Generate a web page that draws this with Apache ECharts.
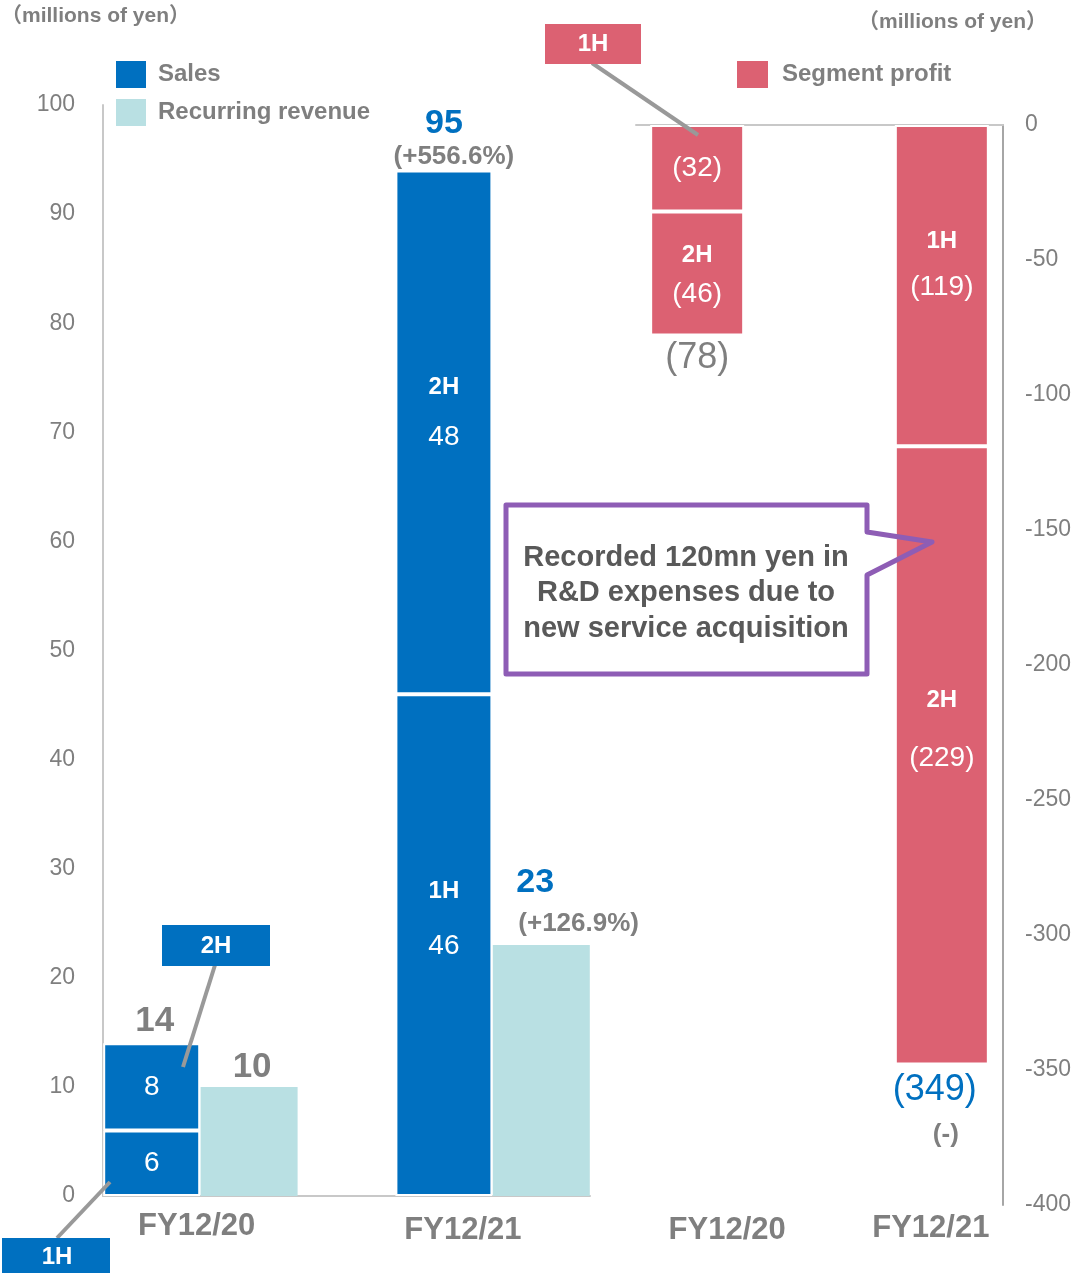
<!DOCTYPE html>
<html>
<head>
<meta charset="utf-8">
<script src="https://cdn.jsdelivr.net/npm/echarts@6/dist/echarts.min.js"></script>
<style>
  html, body { margin: 0; padding: 0; background: #fff; }
  #chart { width: 1076px; height: 1273px; }
</style>
</head>
<body>
<div id="chart"></div>
<script>
// Fiscal years shown in both panels
const categories = ['FY12/20', 'FY12/21'];

// Sales (millions of yen), by half
const sales1H = [6, 46];
const sales2H = [8, 48];
const salesTotal = [14, 95];
const salesGrowth = ['', '+556.6%'];

// Recurring revenue (millions of yen)
const recurring = [10, 23];
const recurringGrowth = ['', '+126.9%'];

// Segment profit (millions of yen), by half
const profit1H = [-32, -119];
const profit2H = [-46, -229];
const profitTotal = [-78, -349];
const profitGrowth = ['', '-'];

// Axis ranges
const leftAxis = { min: 0, max: 100, interval: 10 };
const rightAxis = { min: -400, max: 0, interval: 50 };

const FONT = "'Liberation Sans', Arial, 'Noto Sans CJK JP', sans-serif";
const C = {
  blue: '#0070C0',
  teal: '#B9E0E3',
  red: '#DC6172',
  gray: '#7F7F7F',
  axis: '#C8C8C8',
  dark: '#595959',
  purple: '#8E5DB5',
  leader: '#999999'
};

// Left panel: five slots -> [sales, recurring, gap, sales, recurring]
const leftSlots = ['s0', 'r0', 'gap', 's1', 'r1'];
const salesSlot = i => 3 * i;
const recSlot = i => 3 * i + 1;
// Right panel: three slots -> [profit, gap, profit]
const rightSlots = ['p0', 'gap', 'p1'];
const profitSlot = i => 2 * i;

function slotted(n, slotOf, items) {
  const arr = new Array(n).fill('-');
  items.forEach((it, i) => { arr[slotOf(i)] = it; });
  return arr;
}
const paren = v => v < 0 ? '(' + Math.abs(v) + ')' : String(v);

// Label inside a half-year segment; optional "1H"/"2H" heading above the value
function segItem(value, half, withHalf, lineH, dy) {
  const text = paren(value);
  return {
    value: value,
    label: withHalf ? {
      formatter: '{h|' + half + '}\n{v|' + text + '}',
      offset: [0, dy],
      rich: {
        h: { color: '#fff', fontSize: 24, fontWeight: 'bold', fontFamily: FONT, lineHeight: lineH },
        v: { color: '#fff', fontSize: 28, fontFamily: FONT, lineHeight: lineH }
      }
    } : { formatter: text, offset: [0, dy] }
  };
}

const segLabel = {
  show: true, position: 'inside', color: '#fff', fontSize: 28, fontFamily: FONT
};

const sales1HData = slotted(5, salesSlot, sales1H.map((v, i) =>
  i === 0 ? segItem(v, '1H', false, 30, 0) : segItem(v, '1H', true, 55, -26)));
const sales2HData = slotted(5, salesSlot, sales2H.map((v, i) =>
  i === 0 ? segItem(v, '2H', false, 30, 0) : segItem(v, '2H', true, 50, -20)));

const recurringData = slotted(5, recSlot, recurring.map((v, i) => {
  if (!recurringGrowth[i]) {
    return { value: v, label: { formatter: String(v), color: C.gray, fontSize: 35, fontWeight: 'bold', lineHeight: 35, distance: 2, offset: [3, 0] } };
  }
  return {
    value: v,
    label: {
      formatter: '{v|' + v + '}\n{p|(' + recurringGrowth[i] + ')}',
      align: 'left', offset: [-25, 0], distance: 8,
      rich: {
        v: { color: C.blue, fontSize: 34, fontWeight: 'bold', fontFamily: FONT, lineHeight: 56 },
        p: { color: C.gray, fontSize: 26, fontWeight: 'bold', fontFamily: FONT, lineHeight: 26, padding: [0, 0, 0, 2] }
      }
    }
  };
}));

// Totals sit on top of the stacked sales column
const salesTotalData = slotted(5, salesSlot, salesTotal.map((t, i) => {
  const top = sales1H[i] + sales2H[i];
  if (!salesGrowth[i]) {
    return { value: top, label: { formatter: String(t), color: C.gray, fontSize: 35, fontWeight: 'bold', lineHeight: 35, distance: 4, offset: [3, 0] } };
  }
  return {
    value: top,
    label: {
      formatter: '{v|' + t + '}\n{p|(' + salesGrowth[i] + ')}',
      distance: 0,
      rich: {
        v: { color: C.blue, fontSize: 34, fontWeight: 'bold', fontFamily: FONT, lineHeight: 40 },
        p: { color: C.gray, fontSize: 26, fontWeight: 'bold', fontFamily: FONT, lineHeight: 26, padding: [0, 0, 0, 20] }
      }
    }
  };
}));

const profit1HData = slotted(3, profitSlot, profit1H.map((v, i) =>
  i === 0 ? segItem(v, '1H', false, 30, 0) : segItem(v, '1H', true, 46, -21)));
const profit2HData = slotted(3, profitSlot, profit2H.map((v, i) =>
  i === 0 ? segItem(v, '2H', true, 39, 1) : segItem(v, '2H', true, 58, -26)));

// Totals hang below the stacked profit column
const profitTotalData = slotted(3, profitSlot, profitTotal.map((t, i) => {
  const bottom = profit1H[i] + profit2H[i];
  if (!profitGrowth[i]) {
    return { value: bottom, label: { formatter: paren(t), color: C.gray, fontSize: 36, lineHeight: 40, distance: 2 } };
  }
  return {
    value: bottom,
    label: {
      formatter: '{v|' + paren(t) + '}\n{p|(' + profitGrowth[i] + ')}',
      distance: 3,
      rich: {
        v: { color: C.blue, fontSize: 36, fontFamily: FONT, lineHeight: 44, padding: [0, 14, 0, 0] },
        p: { color: C.gray, fontSize: 26, fontWeight: 'bold', fontFamily: FONT, lineHeight: 46, padding: [0, 0, 0, 8] }
      }
    }
  };
}));

const chart = echarts.init(document.getElementById('chart'), null, { renderer: 'canvas' });

const xLabelStyle = { color: C.gray, fontSize: 31, fontWeight: 'bold', fontFamily: FONT, lineHeight: 32 };
const legendText = { color: C.gray, fontSize: 24, fontWeight: 'bold', fontFamily: FONT };
const totalStyle = { color: 'rgba(0,0,0,0)', opacity: 1 };

const option = {
  animation: false,
  backgroundColor: '#fff',
  textStyle: { fontFamily: FONT },
  grid: [
    { left: 103, right: 486, top: 105, bottom: 77, outerBoundsMode: 'none' },
    { left: 636, right: 73, top: 125, bottom: 68, outerBoundsMode: 'none' }
  ],
  legend: [
    {
      left: 116, top: 61, padding: 0, orient: 'vertical', icon: 'rect',
      itemWidth: 30, itemHeight: 27, itemGap: 11, selectedMode: false,
      itemStyle: { borderWidth: 0 },
      data: ['Sales', 'Recurring revenue'],
      textStyle: Object.assign({ padding: [0, 0, 0, 7] }, legendText)
    },
    {
      left: 737, top: 61, padding: 0, orient: 'vertical', icon: 'rect',
      itemWidth: 31, itemHeight: 27, selectedMode: false,
      itemStyle: { borderWidth: 0 },
      data: ['Segment profit'],
      textStyle: Object.assign({ padding: [0, 0, 0, 9] }, legendText)
    }
  ],
  xAxis: [
    {
      gridIndex: 0, type: 'category', data: leftSlots,
      axisLine: { show: true, lineStyle: { color: C.axis, width: 2 } },
      axisTick: { show: false },
      axisLabel: {
        interval: 0, margin: 14,
        formatter: (val, idx) => idx % 3 === 0 ? '{c' + idx / 3 + '|' + categories[idx / 3] + '}' : '',
        rich: {
          c0: Object.assign({ padding: [0, 0, 0, 90] }, xLabelStyle),
          c1: Object.assign({ padding: [9, 0, 0, 38] }, xLabelStyle)
        }
      }
    },
    {
      gridIndex: 1, type: 'category', data: rightSlots, position: 'top',
      axisLine: { show: true, lineStyle: { color: C.axis, width: 2 } },
      axisTick: { show: false },
      axisLabel: { show: false }
    },
    {
      gridIndex: 1, type: 'category', data: rightSlots, position: 'bottom',
      axisLine: { show: false, onZero: false },
      axisTick: { show: false },
      axisLabel: {
        interval: 0, margin: 7,
        formatter: (val, idx) => idx % 2 === 0 ? '{c' + idx / 2 + '|' + categories[idx / 2] + '}' : '',
        rich: {
          c0: Object.assign({ padding: [4, 0, 0, 60] }, xLabelStyle),
          c1: Object.assign({ padding: [0, 22, 0, 0] }, xLabelStyle)
        }
      }
    }
  ],
  yAxis: [
    {
      gridIndex: 0, type: 'value',
      min: leftAxis.min, max: leftAxis.max, interval: leftAxis.interval,
      axisLine: { show: true, lineStyle: { color: C.axis, width: 2 } },
      axisTick: { show: false },
      splitLine: { show: false },
      axisLabel: { color: C.gray, fontSize: 23, fontFamily: FONT, margin: 28 }
    },
    {
      gridIndex: 1, type: 'value', position: 'right',
      min: rightAxis.min, max: rightAxis.max, interval: rightAxis.interval,
      axisLine: { show: true, lineStyle: { color: '#A6A6A6', width: 2 } },
      axisTick: { show: false },
      splitLine: { show: false },
      axisLabel: { color: C.gray, fontSize: 23, fontFamily: FONT, margin: 22 }
    }
  ],
  series: [
    {
      name: 'Sales', type: 'bar', xAxisIndex: 0, yAxisIndex: 0, stack: 'left',
      barWidth: 97, data: sales1HData,
      itemStyle: { color: C.blue, borderColor: '#fff', borderWidth: 2 },
      label: segLabel
    },
    {
      name: 'Sales', type: 'bar', xAxisIndex: 0, yAxisIndex: 0, stack: 'left',
      barWidth: 97, data: sales2HData,
      itemStyle: { color: C.blue, borderColor: '#fff', borderWidth: 2 },
      label: segLabel
    },
    {
      name: 'Recurring revenue', type: 'bar', xAxisIndex: 0, yAxisIndex: 0, stack: 'left',
      barWidth: 95, data: recurringData,
      itemStyle: { color: C.teal },
      label: { show: true, position: 'top', fontFamily: FONT }
    },
    {
      name: 'sales total', type: 'scatter', xAxisIndex: 0, yAxisIndex: 0,
      symbolSize: 1, itemStyle: totalStyle, silent: true,
      data: salesTotalData,
      label: { show: true, position: 'top', fontFamily: FONT }
    },
    {
      name: 'Segment profit', type: 'bar', xAxisIndex: 1, yAxisIndex: 1, stack: 'profit',
      barWidth: 94, data: profit1HData,
      itemStyle: { color: C.red, borderColor: '#fff', borderWidth: 2 },
      label: segLabel
    },
    {
      name: 'Segment profit', type: 'bar', xAxisIndex: 1, yAxisIndex: 1, stack: 'profit',
      barWidth: 94, data: profit2HData,
      itemStyle: { color: C.red, borderColor: '#fff', borderWidth: 2 },
      label: segLabel
    },
    {
      name: 'profit total', type: 'scatter', xAxisIndex: 1, yAxisIndex: 1,
      symbolSize: 1, itemStyle: totalStyle, silent: true,
      data: profitTotalData,
      label: { show: true, position: 'bottom', fontFamily: FONT }
    }
  ],
  graphic: [
    // unit captions
    {
      type: 'text', left: 1, top: 6, z: 100,
      style: { text: '（millions of yen）', fill: C.gray, font: 'bold 21px ' + FONT }
    },
    {
      type: 'text', left: 858, top: 12, z: 100,
      style: { text: '（millions of yen）', fill: C.gray, font: 'bold 21px ' + FONT }
    },
    // half-year callouts
    { type: 'line', z: 100, shape: { x1: 57, y1: 1238, x2: 110, y2: 1182 }, style: { stroke: C.leader, lineWidth: 4 } },
    { type: 'rect', z: 101, shape: { x: 2, y: 1238, width: 108, height: 35 }, style: { fill: C.blue } },
    { type: 'text', z: 102, x: 57, y: 1257, style: { text: '1H', fill: '#fff', font: 'bold 24px ' + FONT, align: 'center', verticalAlign: 'middle' } },

    { type: 'line', z: 100, shape: { x1: 215, y1: 965, x2: 183, y2: 1067 }, style: { stroke: C.leader, lineWidth: 4 } },
    { type: 'rect', z: 101, shape: { x: 162, y: 925, width: 108, height: 41 }, style: { fill: C.blue } },
    { type: 'text', z: 102, x: 216, y: 946, style: { text: '2H', fill: '#fff', font: 'bold 24px ' + FONT, align: 'center', verticalAlign: 'middle' } },

    { type: 'line', z: 100, shape: { x1: 592, y1: 63, x2: 698, y2: 135 }, style: { stroke: C.leader, lineWidth: 4 } },
    { type: 'rect', z: 101, shape: { x: 545, y: 24, width: 96, height: 40 }, style: { fill: C.red } },
    { type: 'text', z: 102, x: 593, y: 44, style: { text: '1H', fill: '#fff', font: 'bold 24px ' + FONT, align: 'center', verticalAlign: 'middle' } },

    // speech bubble note
    {
      type: 'polygon', z: 100,
      shape: { points: [[506, 505], [867, 505], [867, 532], [932, 542], [867, 575], [867, 674], [506, 674]] },
      style: { fill: 'rgba(255,255,255,0)', stroke: C.purple, lineWidth: 5, lineJoin: 'round' }
    },
    {
      type: 'text', z: 101, x: 686, y: 593,
      style: {
        text: 'Recorded 120mn yen in\nR&D expenses due to\nnew service acquisition',
        fill: C.dark, font: 'bold 29px ' + FONT, lineHeight: 35.5,
        align: 'center', verticalAlign: 'middle'
      }
    }
  ]
};

chart.setOption(option);
</script>
</body>
</html>
